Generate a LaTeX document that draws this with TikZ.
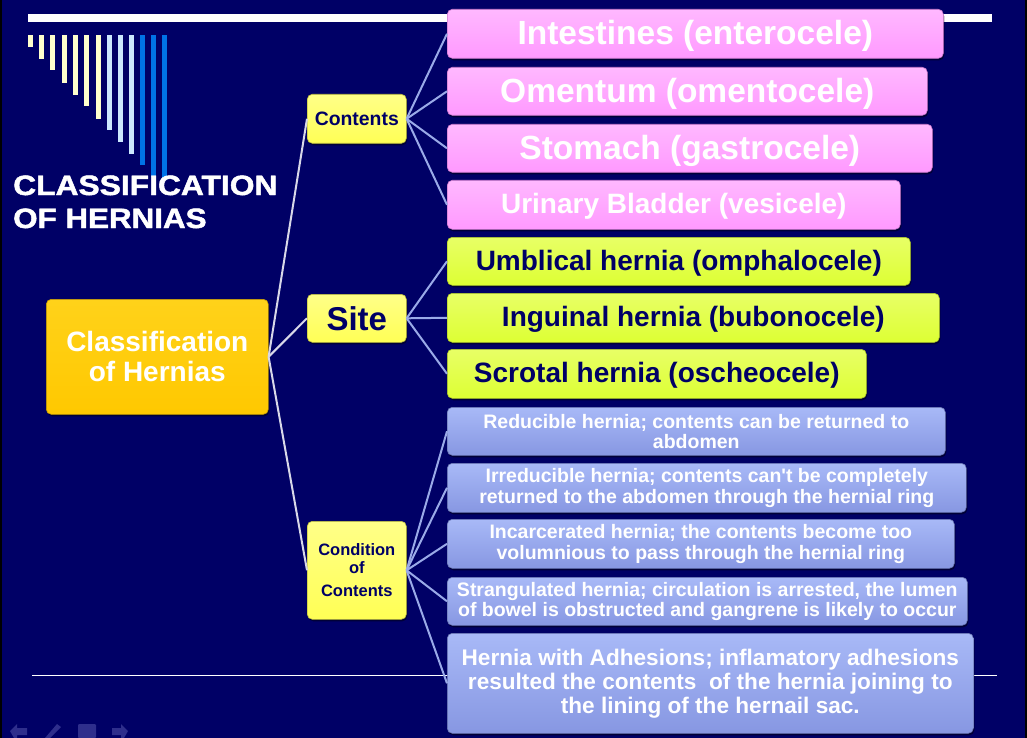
\documentclass[tikz,border=0pt]{standalone}
\usepackage{fontspec}
\usepackage{graphicx}
\setmainfont{Liberation Sans}
\newfontfamily\heavyfont[FakeBold=1.6]{Liberation Sans Bold}
\usetikzlibrary{shadows}
\definecolor{bg}{HTML}{000066}
\definecolor{navy}{HTML}{000066}
\definecolor{pinkB}{HTML}{FF99FF}
\definecolor{pinkT}{HTML}{FFB8FF}
\definecolor{greenB}{HTML}{DDFF33}
\definecolor{greenT}{HTML}{E8FF66}
\definecolor{yelB}{HTML}{FFFF55}
\definecolor{yelT}{HTML}{FFFF88}
\definecolor{rootB}{HTML}{FFC800}
\definecolor{rootT}{HTML}{FFD21A}
\definecolor{blueB}{HTML}{8797E2}
\definecolor{blueT}{HTML}{A8B9F7}
\definecolor{barY}{HTML}{FFFFCC}
\definecolor{barL}{HTML}{CCE8FF}
\definecolor{barB}{HTML}{0073E6}
\definecolor{rootline}{HTML}{D8D8E8}
\definecolor{kidline}{HTML}{9AAAE8}
\definecolor{icon}{HTML}{2E2E8C}
\tikzset{
  box/.style={rounded corners=5pt, inner sep=0pt, anchor=north west, align=center,
    line width=0.6pt, drop shadow={shadow xshift=1pt, shadow yshift=-2pt, opacity=0.45, fill=black}},
  pinkbox/.style={box, top color=pinkT, bottom color=pinkB, draw=pinkB!80!black, text=white,
    font=\fontsize{33.5}{36}\selectfont\bfseries, text depth=2pt},
  greenbox/.style={box, top color=greenT, bottom color=greenB, draw=greenB!80!black, text=navy,
    font=\fontsize{28}{30}\selectfont\bfseries, text depth=2.5pt},
  bluebox/.style={box, top color=blueT, bottom color=blueB, draw=blueB!80!black, text=white,
    font=\fontsize{19.5}{20.5}\selectfont\bfseries},
  yelbox/.style={box, top color=yelT, bottom color=yelB, draw=yelB!75!black, text=navy,
    font=\fontsize{19.4}{21}\selectfont\bfseries},
  rootbox/.style={box, top color=rootT, bottom color=rootB, draw=rootB!80!black, text=white,
    font=\fontsize{28}{30}\selectfont\bfseries},
  rootlink/.style={draw=rootline, line width=2pt},
  kidlink/.style={draw=kidline, line width=2pt},
  titletext/.style={anchor=base west, inner sep=0pt, text=white, font=\fontsize{28}{30}\selectfont\heavyfont},
}
\begin{document}
\begin{tikzpicture}[x=1pt,y=-1pt]
\useasboundingbox (0,0) rectangle (1027,738);
\fill[bg] (0,0) rectangle (1027,738);
\fill[black] (0,0) rectangle (2,738);
\fill[black] (1025,0) rectangle (1027,738);
% top bar
\fill[white] (28,14) rectangle (992,22);
% vertical bars
\foreach \x/\b/\c in {28/47/barY,39/59/barY,50/70/barY,62/83/barY,73/95/barY,84/106/barY,96/119/barY,
  107/130/barL,118/142/barL,129/154/barL,140/165/barB,151/177/barB,162/178/barB}
  \fill[\c] (\x,35) rectangle ++(5,\b-35);
% bottom line
\draw[white, line width=1pt] (32,675) -- (997,675);
% nav icons
\fill[icon] (10,731) -- (17,724) -- (17,728) -- (27,728) -- (27,735) -- (17,735) -- (17,738) -- (14,738) -- cycle;
\fill[icon] (45,738) -- (57,724) -- (61,727) -- (50,738) -- cycle;
\fill[icon, rounded corners=1pt] (78,724) rectangle (96,738);
\fill[icon] (128,731) -- (121,724) -- (121,728) -- (112,728) -- (112,735) -- (121,735) -- (121,738) -- (124,738) -- cycle;
% title
\node[titletext] (t1) at (13,195) {\scalebox{1.135}[1]{CLASSIFICATION}};
\node[titletext] (t2) at (13,228) {\scalebox{1.12}[1]{OF HERNIAS}};
% root and level 2
\node[rootbox, minimum width=222pt, minimum height=115pt] (root) at (46,299) {Classification\\of Hernias};
\node[yelbox, minimum width=99pt, minimum height=49pt] (cont) at (307,94) {Contents};
\node[yelbox, minimum width=99pt, minimum height=48pt, font=\fontsize{33}{36}\selectfont\bfseries] (site) at (307,294) {Site};
\node[yelbox, minimum width=99pt, minimum height=98pt, font=\fontsize{16.5}{18}\selectfont\bfseries] (cond) at (307,521) {Condition\\of\\[5pt]Contents};
% leaves
\node[pinkbox, minimum width=496pt, minimum height=49pt] (p1) at (447,9) {Intestines (enterocele)};
\node[pinkbox, minimum width=480pt, minimum height=48pt] (p2) at (447,67) {Omentum (omentocele)};
\node[pinkbox, minimum width=485pt, minimum height=48pt] (p3) at (447,124) {Stomach (gastrocele)};
\node[pinkbox, minimum width=453pt, minimum height=49pt, font=\fontsize{28}{30}\selectfont\bfseries] (p4) at (447,180) {Urinary Bladder (vesicele)};
\node[greenbox, minimum width=463pt, minimum height=48pt] (g1) at (447,237) {Umblical hernia (omphalocele)};
\node[greenbox, minimum width=492pt, minimum height=49pt] (g2) at (447,293) {Inguinal hernia (bubonocele)};
\node[greenbox, minimum width=419pt, minimum height=49pt] (g3) at (447,349) {Scrotal hernia (oscheocele)};
\node[bluebox, minimum width=498pt, minimum height=48pt] (b1) at (447,407) {Reducible hernia; contents can be returned to\\abdomen};
\node[bluebox, minimum width=519pt, minimum height=49pt] (b2) at (447,463) {Irreducible hernia; contents can\textquotesingle t be completely\\returned to the abdomen through the hernial ring};
\node[bluebox, minimum width=507pt, minimum height=49pt] (b3) at (447,519) {Incarcerated hernia; the contents become too\\volumnious to pass through the hernial ring};
\node[bluebox, minimum width=520pt, minimum height=48pt] (b4) at (447,577) {Strangulated hernia; circulation is arrested, the lumen\\of bowel is obstructed and gangrene is likely to occur};
\node[bluebox, minimum width=526pt, minimum height=100pt, font=\fontsize{22.6}{24}\selectfont\bfseries] (b5) at (447,633) {Hernia with Adhesions; inflamatory adhesions\\resulted the contents\ \ of the hernia joining to\\the lining of the hernail sac.};
% connectors
\draw[rootlink] (root.east) -- (cont.west);
\draw[rootlink] (root.east) -- (site.west);
\draw[rootlink] (root.east) -- (cond.west);
\foreach \n in {p1,p2,p3,p4} \draw[kidlink] (cont.east) -- (\n.west);
\foreach \n in {g1,g2,g3} \draw[kidlink] (site.east) -- (\n.west);
\foreach \n in {b1,b2,b3,b4,b5} \draw[kidlink] (cond.east) -- (\n.west);
\end{tikzpicture}
\end{document}
